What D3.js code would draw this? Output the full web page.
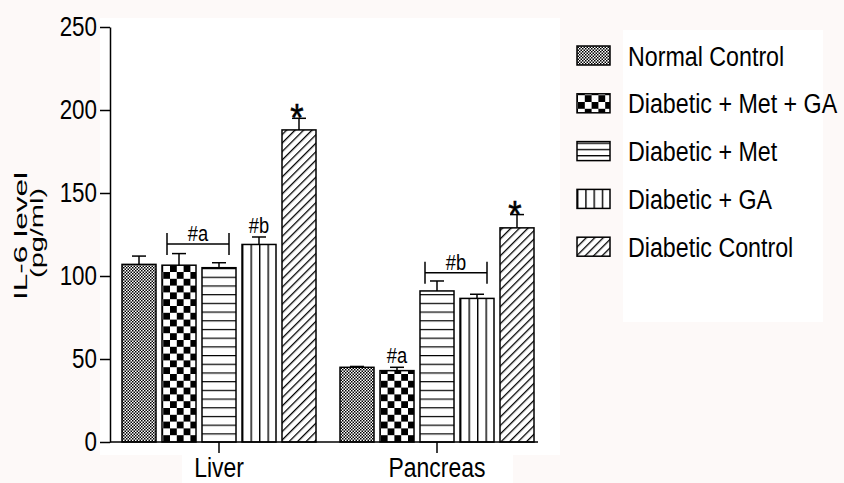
<!DOCTYPE html>
<html>
<head>
<meta charset="utf-8">
<script src="https://cdn.jsdelivr.net/npm/d3@7"></script>
<style>
  html, body { margin: 0; padding: 0; background: #fdf9f8; }
  svg { display: block; font-family: "Liberation Sans", Arial, sans-serif; }
</style>
</head>
<body>
<svg id="chart" width="844" height="483"></svg>
<script>
// ---- data ----
const categories = ["Liver", "Pancreas"];
const seriesNames = ["Normal Control", "Diabetic + Met + GA", "Diabetic + Met", "Diabetic + GA", "Diabetic Control"];
const liverValues = [107, 106.5, 105, 119, 188];
const liverErrors = [5, 7, 3, 4.5, 7];
const pancreasValues = [45, 43, 91, 86.5, 129];
const pancreasErrors = [0.5, 2, 6, 2.5, 8];
const yTicks = [0, 50, 100, 150, 200, 250];
const barMarks = [
  { group: "Liver", series: 3, text: "#b" },
  { group: "Liver", series: 4, text: "*" },
  { group: "Pancreas", series: 1, text: "#a" },
  { group: "Pancreas", series: 4, text: "*" }
];
const brackets = [
  { group: "Liver", from: 1, to: 2, value: 119.3, text: "#a" },
  { group: "Pancreas", from: 2, to: 3, value: 102, text: "#b" }
];

const valuesByGroup = { Liver: liverValues, Pancreas: pancreasValues };
const errorsByGroup = { Liver: liverErrors, Pancreas: pancreasErrors };
const rows = [];
categories.forEach(c => seriesNames.forEach((s, i) => rows.push({
  group: c, series: s, idx: i, value: valuesByGroup[c][i], err: errorsByGroup[c][i]
})));

const svg = d3.select("#chart");
const fillId = ["pFine", "pCheck", "pHoriz", "pVert", "pDiag"];

// ---- fill patterns ----
const defs = svg.append("defs");
function checker(id, cell) {
  const p = defs.append("pattern").attr("id", id).attr("patternUnits", "userSpaceOnUse")
    .attr("width", cell * 2).attr("height", cell * 2);
  p.append("rect").attr("width", cell * 2).attr("height", cell * 2).attr("fill", "#fff");
  p.append("rect").attr("width", cell).attr("height", cell).attr("fill", "#000");
  p.append("rect").attr("x", cell).attr("y", cell).attr("width", cell).attr("height", cell).attr("fill", "#000");
}
checker("pFine", 1.5);
checker("pCheck", 6.8);
function horiz(id, gap, y0) {
  const p = defs.append("pattern").attr("id", id).attr("patternUnits", "userSpaceOnUse")
    .attr("width", 40).attr("height", gap).attr("y", y0);
  p.append("rect").attr("width", 40).attr("height", gap).attr("fill", "#fff");
  p.append("line").attr("x1", 0).attr("x2", 40).attr("y1", 0).attr("y2", 0)
    .attr("stroke", "#000").attr("stroke-width", 2.6);
}
horiz("pHoriz", 8.7, 442);
horiz("lHoriz", 6.2, 0);
const pv = defs.append("pattern").attr("id", "pVert").attr("patternUnits", "objectBoundingBox")
  .attr("width", 0.25).attr("height", 1);
pv.append("rect").attr("width", 60).attr("height", 1000).attr("fill", "#fff");
pv.append("line").attr("x1", 0.7).attr("x2", 0.7).attr("y1", 0).attr("y2", 1000)
  .attr("stroke", "#000").attr("stroke-width", 1.4);
const pd = defs.append("pattern").attr("id", "pDiag").attr("patternUnits", "userSpaceOnUse")
  .attr("width", 6).attr("height", 6).attr("patternTransform", "rotate(45)");
pd.append("rect").attr("width", 6).attr("height", 6).attr("fill", "#fff");
pd.append("line").attr("x1", 0).attr("x2", 0).attr("y1", 0).attr("y2", 6)
  .attr("stroke", "#000").attr("stroke-width", 2.6);

// ---- background panels ----
svg.append("rect").attr("x", 100).attr("y", 18).attr("width", 460).attr("height", 437).attr("fill", "#fff");
svg.append("rect").attr("x", 623).attr("y", 30).attr("width", 200).attr("height", 292).attr("fill", "#fff");
svg.append("rect").attr("x", 182).attr("y", 455).attr("width", 331).attr("height", 28).attr("fill", "#fff");

// ---- scales ----
const y = d3.scaleLinear().domain([0, 250]).range([442, 27]);
const x0 = d3.scaleBand().domain(categories).range([110, 546]).paddingInner(0).paddingOuter(0);
const x1 = d3.scaleBand().domain(seriesNames).range([0, 194]).paddingInner(0.15).paddingOuter(0);
const barX = (g, i) => x0(g) + (x0.bandwidth() - 194) / 2 + x1(seriesNames[i]);
const barC = (g, i) => barX(g, i) + x1.bandwidth() / 2;

function condense(sel, k) {
  sel.each(function () {
    const t = d3.select(this);
    const x = +t.attr("x") || 0, yy = +t.attr("y") || 0;
    t.attr("transform", `translate(${x},${yy}) scale(${k},1)`).attr("x", 0).attr("y", 0);
  });
}

// ---- bars ----
svg.append("g").selectAll("rect").data(rows).join("rect")
  .attr("x", d => barX(d.group, d.idx))
  .attr("y", d => y(d.value))
  .attr("width", x1.bandwidth())
  .attr("height", d => y(0) - y(d.value))
  .attr("fill", d => `url(#${fillId[d.idx]})`)
  .attr("stroke", "#000").attr("stroke-width", 1.5);

// ---- error bars (upper only) ----
const eb = svg.append("g").attr("stroke", "#000").attr("stroke-width", 1.5);
eb.selectAll("line.v").data(rows).join("line").attr("class", "v")
  .attr("x1", d => barC(d.group, d.idx)).attr("x2", d => barC(d.group, d.idx))
  .attr("y1", d => y(d.value)).attr("y2", d => y(d.value + d.err));
eb.selectAll("line.c").data(rows).join("line").attr("class", "c")
  .attr("x1", d => barC(d.group, d.idx) - 7).attr("x2", d => barC(d.group, d.idx) + 7)
  .attr("y1", d => y(d.value + d.err)).attr("y2", d => y(d.value + d.err));

// ---- significance marks ----
const mk = svg.append("g").attr("fill", "#000");
barMarks.forEach(m => {
  const v = valuesByGroup[m.group][m.series] + errorsByGroup[m.group][m.series];
  const star = m.text === "*";
  mk.append("text")
    .attr("x", barC(m.group, m.series) - (star ? 2 : 0))
    .attr("y", star ? y(v) + 13 : y(v) - 4)
    .attr("text-anchor", "middle")
    .attr("font-size", star ? 38 : 22)
    .attr("stroke", star ? "#000" : "none").attr("stroke-width", star ? 0.6 : 0)
    .text(m.text)
    .call(condense, star ? 0.9 : 0.83);
});
brackets.forEach(b => {
  const xa = barC(b.group, b.from) - 12, xb = barC(b.group, b.to) + 10, yy = y(b.value);
  const g = svg.append("g").attr("stroke", "#000").attr("stroke-width", 1.5);
  g.append("line").attr("x1", xa).attr("x2", xb).attr("y1", yy).attr("y2", yy);
  g.append("line").attr("x1", xa).attr("x2", xa).attr("y1", yy - 11).attr("y2", yy + 11);
  g.append("line").attr("x1", xb).attr("x2", xb).attr("y1", yy - 11).attr("y2", yy + 11);
  mk.append("text").attr("x", (xa + xb) / 2).attr("y", yy - 3)
    .attr("text-anchor", "middle").attr("font-size", 22).text(b.text)
    .call(condense, 0.83);
});

// ---- axes ----
const yAxis = svg.append("g").attr("transform", "translate(110,0)")
  .call(d3.axisLeft(y).tickValues(yTicks).tickSize(10).tickPadding(3).tickSizeOuter(0));
yAxis.selectAll("path, line").attr("stroke-width", 1.5);
yAxis.selectAll("text").attr("font-size", 27).attr("fill", "#000").call(condense, 0.83);

const xAxis = svg.append("g").attr("transform", "translate(0,442)")
  .call(d3.axisBottom(x0).tickSize(11).tickPadding(5).tickSizeOuter(0));
xAxis.select(".domain").attr("d", "M110,0H538");
xAxis.selectAll("path, line").attr("stroke-width", 1.5);
xAxis.selectAll("text").attr("font-size", 27).attr("fill", "#000").call(condense, 0.85);

// ---- y axis title (two lines) ----
svg.append("text").attr("transform", "translate(27,236) rotate(-90) scale(1,0.8)")
  .attr("text-anchor", "middle").attr("font-size", 23)
  .attr("textLength", 128).attr("lengthAdjust", "spacingAndGlyphs")
  .text("IL-6  level");
svg.append("text").attr("transform", "translate(43,233) rotate(-90) scale(1,0.8)")
  .attr("text-anchor", "middle").attr("font-size", 22)
  .attr("textLength", 90).attr("lengthAdjust", "spacingAndGlyphs")
  .text("(pg/ml)");

// ---- legend ----
const legendFill = ["pFine", "pCheck", "lHoriz", "pVert", "pDiag"];
const lg = svg.append("g");
seriesNames.forEach((s, i) => {
  const cy = 55 + i * 47.8;
  lg.append("rect").attr("x", 577).attr("y", cy - 9).attr("width", 33).attr("height", 19)
    .attr("fill", `url(#${legendFill[i]})`).attr("stroke", "#000").attr("stroke-width", 1.5);
  lg.append("text").attr("x", 628).attr("y", cy + 10.5).attr("font-size", 28)
    .text(s).call(condense, 0.83);
});
</script>
</body>
</html>
